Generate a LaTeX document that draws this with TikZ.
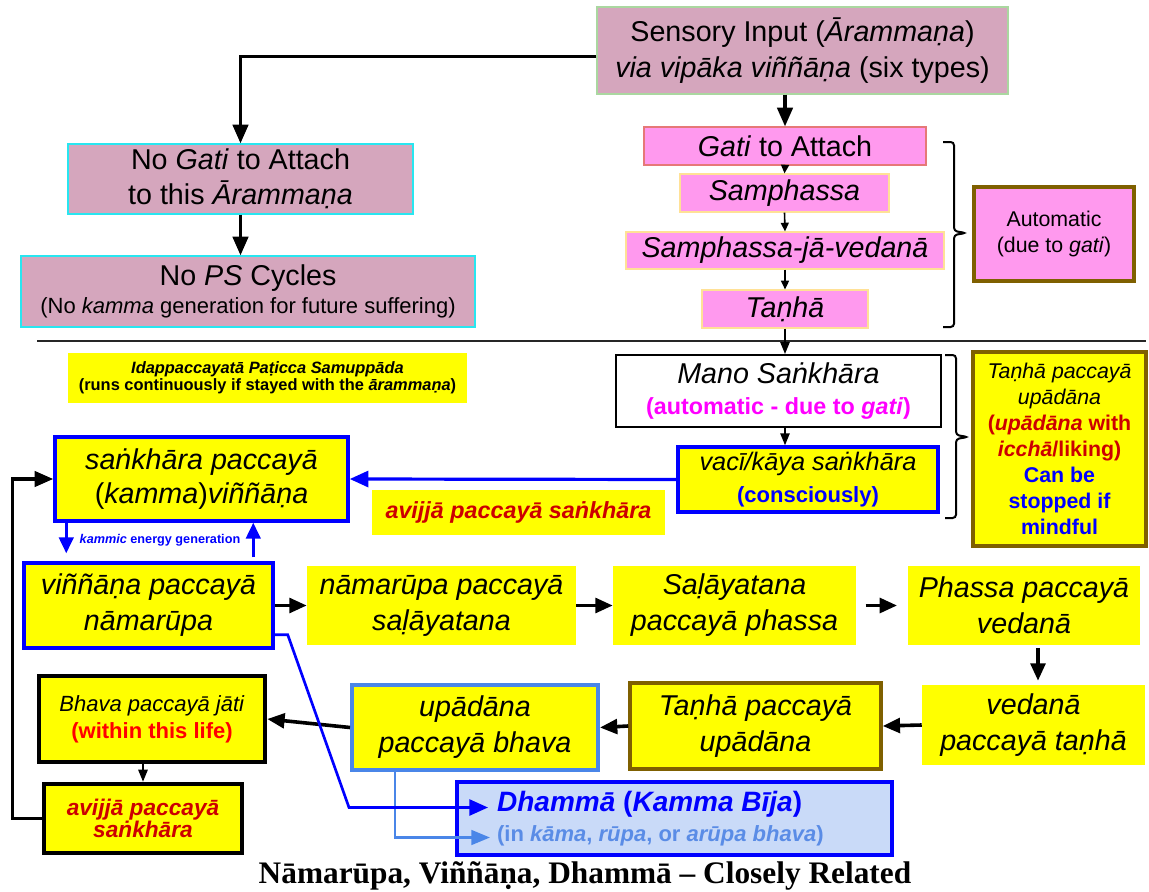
\documentclass[tikz,border=0pt]{standalone}
\usepackage{fontspec}
\setmainfont{Liberation Sans}
\newfontfamily\titlefont{Liberation Serif}
\usetikzlibrary{arrows.meta,calc}
\definecolor{mauve}{RGB}{213,166,189}
\definecolor{pinkf}{RGB}{255,153,238}
\definecolor{yel}{RGB}{255,255,0}
\definecolor{brownb}{RGB}{127,96,0}
\definecolor{cornf}{RGB}{74,134,232}
\definecolor{dhfill}{RGB}{201,218,248}
\definecolor{darkred}{RGB}{204,0,0}
\definecolor{lbt}{RGB}{90,140,230}
\definecolor{greenb}{RGB}{170,215,160}
\definecolor{cyanb}{RGB}{40,230,240}
\definecolor{gatib}{RGB}{230,120,120}
\definecolor{sampb}{RGB}{255,225,150}
\definecolor{magentat}{RGB}{255,0,255}
\newcommand\fA{\fontsize{21.5}{27}\selectfont}
\newcommand\bx[7]{\node[#6, minimum width={(#4-#2)*0.75pt}, minimum height={(#5-#3)*0.75pt}] (#1) at ({(#2+#4)/2},{(#3+#5)/2}) {#7};}
\tikzset{
  base/.style={rectangle, inner sep=1pt, align=center, text=black},
  mauvebox/.style={base, draw, fill=mauve, line width=0.9pt},
  pinkbox/.style={base, draw, fill=pinkf, line width=0.9pt},
  ybox/.style={base, fill=yel},
  bluebox/.style={ybox, draw=blue, line width=2.6pt},
  brownbox/.style={ybox, draw=brownb, line width=2.6pt},
  blackbox/.style={ybox, draw=black, line width=3.4pt},
  bigarr/.style={-{Triangle[length=14pt,width=11.5pt]}, line width=2.5pt},
  rowarr/.style={-{Triangle[length=13pt,width=11pt]}, line width=2.7pt},
  chainarr/.style={-{Triangle[length=6.5pt,width=6pt]}, line width=1.2pt},
  thinarr/.style={-{Triangle[length=9pt,width=7pt]}, line width=1.2pt},
  bluearr/.style={-{Triangle[length=14pt,width=12pt]}, line width=2.4pt, draw=blue},
  kamarr/.style={-{Triangle[length=12pt,width=11pt]}, line width=2pt, draw=blue},
  lbarr/.style={-{Triangle[length=14pt,width=11pt]}, line width=2pt, draw=cornf},
  brace/.style={line width=1.5pt, rounded corners=2.5pt},
}
\begin{document}
\begin{tikzpicture}[x=0.75pt,y=-0.75pt]
\useasboundingbox (0,0) rectangle (1149,892);
\fill[white] (0,0) rectangle (1149,892);

% top part
\bx{sensory}{597}{7}{1008}{94}{mauvebox, draw=greenb, font=\fA}{Sensory Input (\textit{Ārammaṇa})\\\textit{via vipāka viññāṇa} (six types)}
\bx{nogati}{68}{144}{413}{214}{mauvebox, draw=cyanb, font=\fontsize{21.5}{26}\selectfont}{No \textit{Gati} to Attach\\to this \textit{Ārammaṇa}}
\bx{nops}{21}{256}{475}{327}{mauvebox, draw=cyanb, font=\fontsize{21.5}{21}\selectfont}{No \textit{PS} Cycles\\{\fontsize{16.5}{20}\selectfont (No \textit{kamma} generation for future suffering)}}
\bx{gati}{644}{127}{926}{165}{pinkbox, draw=gatib, font=\fA}{\textit{Gati} to Attach}
\bx{samph}{680}{174}{889}{212}{pinkbox, draw=sampb, font=\fA}{\textit{Samphassa}}
\bx{samved}{626}{232}{944}{269}{pinkbox, draw=sampb, font=\fA}{\textit{Samphassa-jā-vedanā}}
\bx{tanha}{702}{290}{868}{328}{pinkbox, draw=sampb, font=\fA}{\textit{Taṇhā}}
\bx{auto}{974}{187}{1134}{281}{pinkbox, draw=brownb, line width=2.6pt, font=\fontsize{16}{19.5}\selectfont}{Automatic\\(due to \textit{gati})}

\draw[brace] (943,142) -- (954,142) -- (954,231) -- (966,233) -- (954,235) -- (954,327) -- (943,327);
\draw[line width=1.3pt, black!85] (37,341) -- (1146,341);

% middle part
\bx{idap}{68}{353}{467}{403}{ybox, font=\fontsize{12.3}{13}\selectfont\bfseries}{\textit{Idappaccayatā Paṭicca Samuppāda}\\(runs continuously if stayed with the \textit{ārammaṇa})}
\bx{mano}{616}{355}{941}{427}{base, fill=white, draw=black, line width=1.5pt, font=\fontsize{21.5}{23.5}\selectfont}{\textit{Mano Saṅkhāra}\\{\fontsize{17.5}{20}\selectfont\bfseries\color{magentat}(automatic - due to \textit{gati})}}
\bx{vaci}{678}{447}{938}{512}{bluebox, font=\fontsize{19}{24}\selectfont}{\textit{vacī/kāya saṅkhāra}\\{\fontsize{16.5}{20}\selectfont\bfseries\color{blue}(consciously)}}
\draw[brace] (945,355) -- (956,355) -- (956,435) -- (968,437) -- (956,439) -- (956,518) -- (945,518);
\bx{tanhar}{973}{352}{1146}{546}{brownbox, font=\fontsize{16}{19.5}\selectfont}{\textit{Taṇhā paccayā}\\\textit{upādāna}\\{\bfseries\color{darkred}(\textit{upādāna} with}\\{\bfseries\color{darkred}\textit{icchā}/liking)}\\{\bfseries\color{blue}Can be}\\{\bfseries\color{blue}stopped if}\\{\bfseries\color{blue}mindful}}
\bx{sankhara}{55}{437}{348}{521}{bluebox, font=\fontsize{21.5}{26}\selectfont}{\textit{saṅkhāra paccayā}\\(\textit{kamma})\textit{viññāṇa}}
\bx{avlabel}{372}{490}{665}{535}{ybox, font=\fontsize{17.5}{20}\selectfont\bfseries\itshape, text=darkred}{avijjā paccayā saṅkhāra}
\node[font=\fontsize{9.5}{11}\selectfont\bfseries, text=blue] (klabel) at (160,540) {\textit{kammic} energy generation};

% cycle rows
\bx{vin}{24}{563}{273}{648}{bluebox, font=\fA}{\textit{viññāṇa paccayā}\\\textit{nāmarūpa}}
\bx{nr}{307}{566}{576}{645}{ybox, font=\fA}{\textit{nāmarūpa paccayā}\\\textit{saḷāyatana}}
\bx{sal}{613}{566}{856}{645}{ybox, font=\fA}{\textit{Saḷāyatana}\\\textit{paccayā phassa}}
\bx{pha}{908}{566}{1140}{645}{ybox, font=\fA}{\textit{Phassa paccayā}\\\textit{vedanā}}
\bx{ved}{922}{685}{1145}{765}{ybox, font=\fA}{\textit{vedanā}\\\textit{paccayā taṇhā}}
\bx{tu}{630}{683}{881}{769}{brownbox, font=\fA}{\textit{Taṇhā paccayā}\\\textit{upādāna}}
\bx{ub}{352}{685}{598}{770}{ybox, draw=cornf, line width=3pt, font=\fA}{\textit{upādāna}\\\textit{paccayā bhava}}
\bx{bj}{39}{676}{265}{762}{blackbox, font=\fontsize{16.5}{20}\selectfont}{\textit{Bhava paccayā jāti}\\{\bfseries\color{red}(within this life)}}
\bx{av2}{44}{784}{242}{853}{blackbox, font=\fontsize{17}{16}\selectfont\bfseries\itshape, text=darkred}{avijjā paccayā\\saṅkhāra}
\bx{dh}{457}{782}{892}{855}{base, fill=dhfill, draw=blue, line width=3pt, align=flush left, text width=266pt, inner xsep=30pt, font=\fontsize{21}{23}\selectfont}{{\bfseries\color{blue}\textit{Dhammā} (\textit{Kamma Bīja})}\\{\fontsize{16.5}{23}\selectfont\bfseries\color{lbt}(in \textit{kāma}, \textit{rūpa}, or \textit{arūpa bhava})}}

\node[font=\titlefont\fontsize{23.5}{28}\selectfont\bfseries, anchor=base] (title) at (585,883) {Nāmarūpa, Viññāṇa, Dhammā – Closely Related};

% connectors
\draw[bigarr] ($(sensory.west)+(0,6)$) -| (nogati.north);
\draw[bigarr] (gati.north |- sensory.south) -- (gati.north);
\draw[bigarr] (nogati.south) -- (nogati.south |- nops.north);
\draw[chainarr] (gati.south) -- (samph.north);
\draw[chainarr] (samph.south) -- (samved.north);
\draw[chainarr] (samved.south) -- (tanha.north);
\draw[thinarr] (tanha.south) -- (tanha.south |- mano.north);
\draw[thinarr] (tanha.south |- mano.south) -- (tanha.south |- vaci.north);
\draw[bluearr] (vaci.west) -- (sankhara.east);
\coordinate (k1) at ($(sankhara.south west)+(13,0)$);
\draw[kamarr, shorten >=6pt] (k1) -- (k1 |- vin.north);
\coordinate (k2) at ($(vin.north west)+(231,0)$);
\draw[kamarr, shorten <=3pt] (k2) -- (k2 |- sankhara.south);
\draw[rowarr] (vin.east) -- (nr.west);
\draw[rowarr] (nr.east) -- (sal.west);
\draw[rowarr, shorten <=7pt, shorten >=8pt] (sal.east) -- (pha.west);
\coordinate (p1) at ($(pha.south)+(14,0)$);
\draw[rowarr, shorten <=2pt, shorten >=3pt] (p1) -- (p1 |- ved.north);
\draw[rowarr] (ved.west) -- (tu.east);
\draw[rowarr] (tu.west) -- (ub.east);
\draw[rowarr] (ub.west) -- (bj.east);
\draw[thinarr] (av2.north |- bj.south) -- (av2.north);
\draw[bigarr] (av2.west) -- ++(-29,0) |- (sankhara.west);
\draw[lbarr] ($(ub.south west)+(45,0)$) |- ($(dh.west)+(35,19)$);
\draw[bluearr, line width=2pt] ($(vin.south east)+(0,-15)$) -- ++(13,0) -- ($(dh.west)+(-106,-11)$) -- ($(dh.west)+(33,-11)$);
\end{tikzpicture}
\end{document}
